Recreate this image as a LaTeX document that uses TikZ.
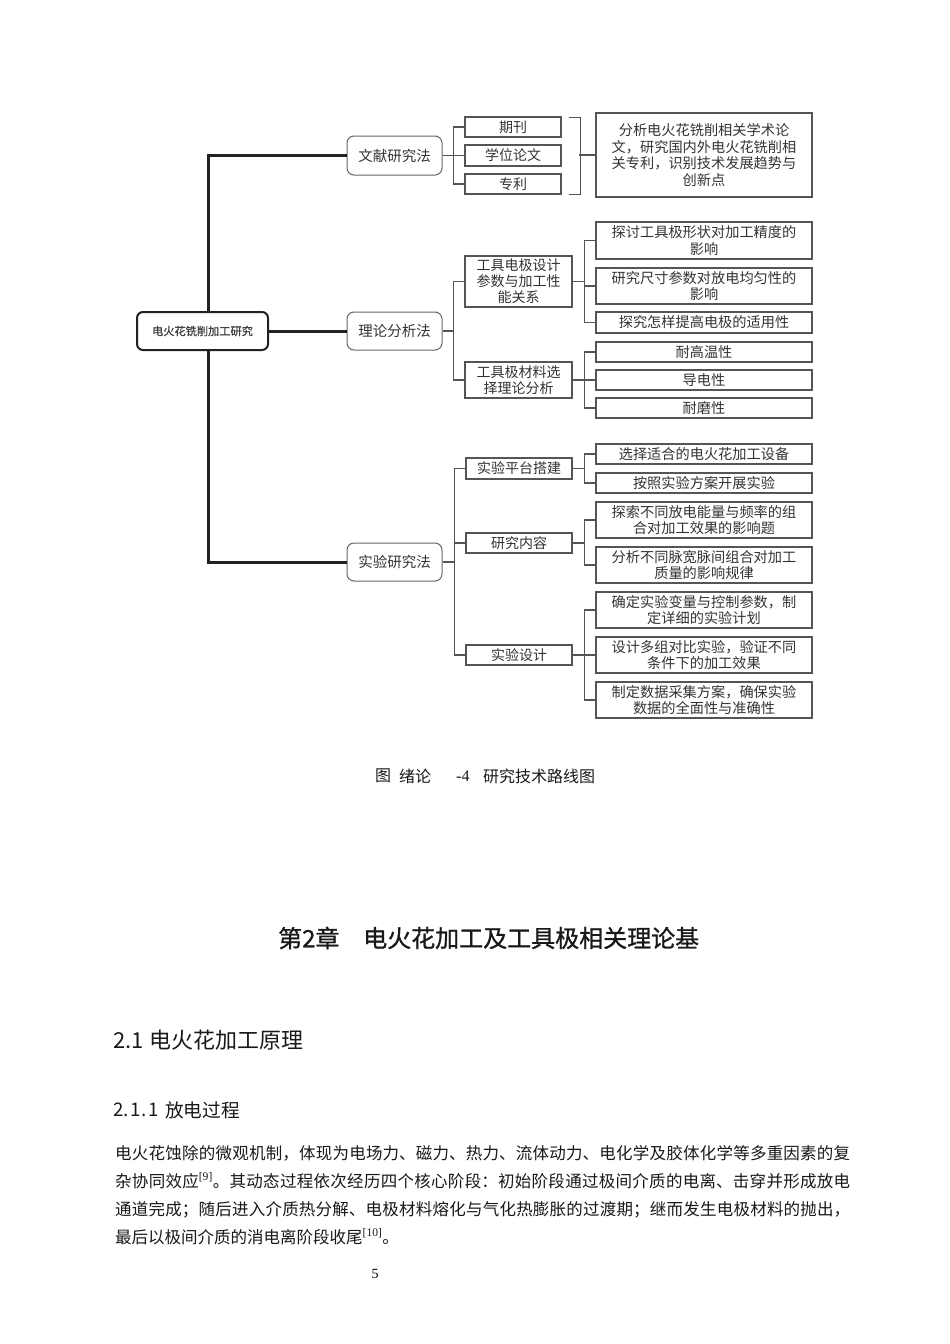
\documentclass[tikz,border=0pt]{standalone}
\usepackage{fontspec}
\setmainfont{Liberation Serif}
\newfontfamily\cjk{Noto Sans CJK SC}
\newfontfamily\cjkb[FakeBold=1]{Noto Sans CJK SC}
\definecolor{boxline}{HTML}{555555}
\definecolor{boxtext}{HTML}{333333}
\definecolor{trunkcol}{HTML}{222222}
\begin{document}
\begin{tikzpicture}[x=1pt,y=-1pt,
  rootbox/.style={draw=trunkcol, line width=2pt, rounded corners=6pt, inner sep=0pt,
    minimum width=131pt, minimum height=38pt, text=black!75,
    font=\cjkb\fontsize{11.2}{14}\selectfont},
  methodbox/.style={draw=boxline!90, line width=1pt, rounded corners=7pt, inner sep=0pt,
    minimum width=95pt, minimum height=38pt, text=boxtext,
    font=\cjk\fontsize{14.5}{17}\selectfont},
  midbox/.style={draw=boxline, line width=1.2pt, inner sep=0pt, minimum width=107pt,
    align=center, text=boxtext, font=\cjk\fontsize{14}{16}\selectfont},
  leafbox/.style={draw=boxline, line width=1.2pt, inner sep=0pt, minimum width=216pt,
    align=center, text=boxtext, font=\cjk\fontsize{14.2}{16.5}\selectfont},
  conn/.style={draw=boxline, line width=1.1pt},
  trunk/.style={draw=trunkcol, line width=3pt},
  plain/.style={inner sep=0pt, anchor=west, text=black!90}
]
\useasboundingbox[fill=white] (0,0) rectangle (950,1344);

% ---------- nodes ----------
\node[rootbox] (root) at (202.5,331) {电火花铣削加工研究};

\node[methodbox, minimum height=39pt] (lit) at (394.5,155.5) {文献研究法};
\node[methodbox] (theo) at (394.5,331) {理论分析法};
\node[methodbox] (exp) at (394.5,562) {实验研究法};

% literature
\node[midbox, minimum width=96pt, minimum height=20pt] (k1) at (513,127) {期刊};
\node[midbox, minimum width=96pt, minimum height=21pt] (k2) at (513,155.5) {学位论文};
\node[midbox, minimum width=96pt, minimum height=20pt] (k3) at (513,184) {专利};
\node[leafbox, minimum height=84pt] (litdesc) at (704,155) {分析电火花铣削相关学术论\\文，研究国内外电火花铣削相\\关专利，识别技术发展趋势与\\创新点};

% theory
\node[midbox, minimum height=51pt] (tdes) at (518.5,281.5) {工具电极设计\\参数与加工性\\能关系};
\node[midbox, minimum height=36pt] (tmat) at (518.5,380) {工具极材料选\\择理论分析};
\node[leafbox, minimum height=37pt] (t1) at (704,240.5) {探讨工具极形状对加工精度的\\影响};
\node[leafbox, minimum height=36pt] (t2) at (704,286) {研究尺寸参数对放电均匀性的\\影响};
\node[leafbox, minimum height=21pt] (t3) at (704,322.5) {探究怎样提高电极的适用性};
\node[leafbox, minimum height=20pt] (m1) at (704,352) {耐高温性};
\node[leafbox, minimum height=20pt] (m2) at (704,380) {导电性};
\node[leafbox, minimum height=20pt] (m3) at (704,408) {耐磨性};

% experiment
\node[midbox, minimum width=106pt, minimum height=21pt] (e1) at (519,468.5) {实验平台搭建};
\node[midbox, minimum width=106pt, minimum height=20pt] (e2) at (519,543) {研究内容};
\node[midbox, minimum width=106pt, minimum height=20pt] (e3) at (519,655) {实验设计};
\node[leafbox, minimum height=20pt] (p1) at (704,454) {选择适合的电火花加工设备};
\node[leafbox, minimum height=20pt] (p2) at (704,483) {按照实验方案开展实验};
\node[leafbox, minimum height=36pt] (c1) at (704,520) {探索不同放电能量与频率的组\\合对加工效果的影响题};
\node[leafbox, minimum height=36pt] (c2) at (704,565) {分析不同脉宽脉间组合对加工\\质量的影响规律};
\node[leafbox, minimum height=36pt] (d1) at (704,610) {确定实验变量与控制参数，制\\定详细的实验计划};
\node[leafbox, minimum height=36pt] (d2) at (704,655) {设计多组对比实验，验证不同\\条件下的加工效果};
\node[leafbox, minimum height=36pt] (d3) at (704,700) {制定数据采集方案，确保实验\\数据的全面性与准确性};

% ---------- connectors ----------
\draw[trunk] (lit.west) -| ([xshift=5.5pt]root.north);
\draw[trunk] (exp.west) -| ([xshift=5.5pt]root.south);
\draw[trunk] (root.east) -- (theo.west);

\foreach \c in {k1,k2,k3}{\draw[conn] (lit.east) -- ([xshift=11pt]lit.east) |- (\c.west);}
\foreach \c in {tdes,tmat}{\draw[conn] (theo.east) -- ([xshift=11pt]theo.east) |- (\c.west);}
\foreach \c in {e1,e2,e3}{\draw[conn] (exp.east) -- ([xshift=12pt]exp.east) |- (\c.west);}
\foreach \c in {t1,t2,t3}{\draw[conn] (tdes.east) -- ([xshift=12pt]tdes.east) |- (\c.west);}
\foreach \c in {m1,m2,m3}{\draw[conn] (tmat.east) -- ([xshift=12pt]tmat.east) |- (\c.west);}
\foreach \c in {p1,p2}{\draw[conn] (e1.east) -- ([xshift=12pt]e1.east) |- (\c.west);}
\foreach \c in {c1,c2}{\draw[conn] (e2.east) -- ([xshift=12pt]e2.east) |- (\c.west);}
\foreach \c in {d1,d2,d3}{\draw[conn] (e3.east) -- ([xshift=12pt]e3.east) |- (\c.west);}

% bracket
\coordinate (bt) at ([xshift=7pt,yshift=-1pt]k1.north east);
\coordinate (bb) at ([xshift=7pt]k3.south east);
\draw[conn] (bt) -- ([xshift=12pt]bt) -- ([xshift=12pt]bb) -- (bb);
\draw[conn] (litdesc.west) -- ([xshift=-16pt]litdesc.west);

% ---------- caption ----------
\node[plain, font=\cjk\fontsize{16}{18}\selectfont] (cap1) at (375,776) {图};
\node[plain, font=\cjk\fontsize{16}{18}\selectfont] (cap2) at (399,776) {绪论};
\node[plain, font=\fontsize{16}{18}\selectfont] (cap3) at (456,776) {-4};
\node[plain, font=\cjk\fontsize{16}{18}\selectfont] (cap4) at (483,776) {研究技术路线图};

% ---------- chapter heading ----------
\node[plain, font=\cjkb\fontsize{24}{28}\selectfont] (ch1) at (278,938) {第2章};
\node[plain, font=\cjkb\fontsize{24}{28}\selectfont] (ch2) at (363,938) {电火花加工及工具极相关理论基};

% ---------- section headings ----------
\node[plain, font=\cjk\fontsize{22}{24}\selectfont] (s1) at (113,1040) {2.1\hspace{6pt}电火花加工原理};
\node[plain, font=\cjk\fontsize{18.7}{21}\selectfont] (s2a) at (113,1110) {2.\hspace{2pt}1.\hspace{2pt}1};
\node[plain, font=\cjk\fontsize{18.7}{21}\selectfont] (s2b) at (165,1110) {放电过程};

% ---------- paragraph ----------
\node[inner sep=0pt, anchor=north west, text width=735pt, align=justify, text=black!90,
  font=\cjk\fontsize{16.5}{28}\selectfont] (para) at (115,1145)
{\XeTeXlinebreaklocale "zh"\XeTeXlinebreakskip=0pt plus 3pt\tolerance=9999\emergencystretch=20pt\parindent=0pt
电火花蚀除的微观机制，体现为电场力、磁力、热力、流体动力、电化学及胶体化学等多重因素的复\linebreak
杂协同效应\textsuperscript{\rmfamily[9]}。其动态过程依次经历四个核心阶段：初始阶段通过极间介质的电离、击穿并形成放电\linebreak
通道完成；随后进入介质热分解、电极材料熔化与气化热膨胀的过渡期；继而发生电极材料的抛出，\linebreak
最后以极间介质的消电离阶段收尾\textsuperscript{\rmfamily[10]}。};

% ---------- page number ----------
\node[inner sep=0pt, font=\fontsize{14}{16}\selectfont] (pg) at (375,1274) {5};
\end{tikzpicture}
\end{document}
